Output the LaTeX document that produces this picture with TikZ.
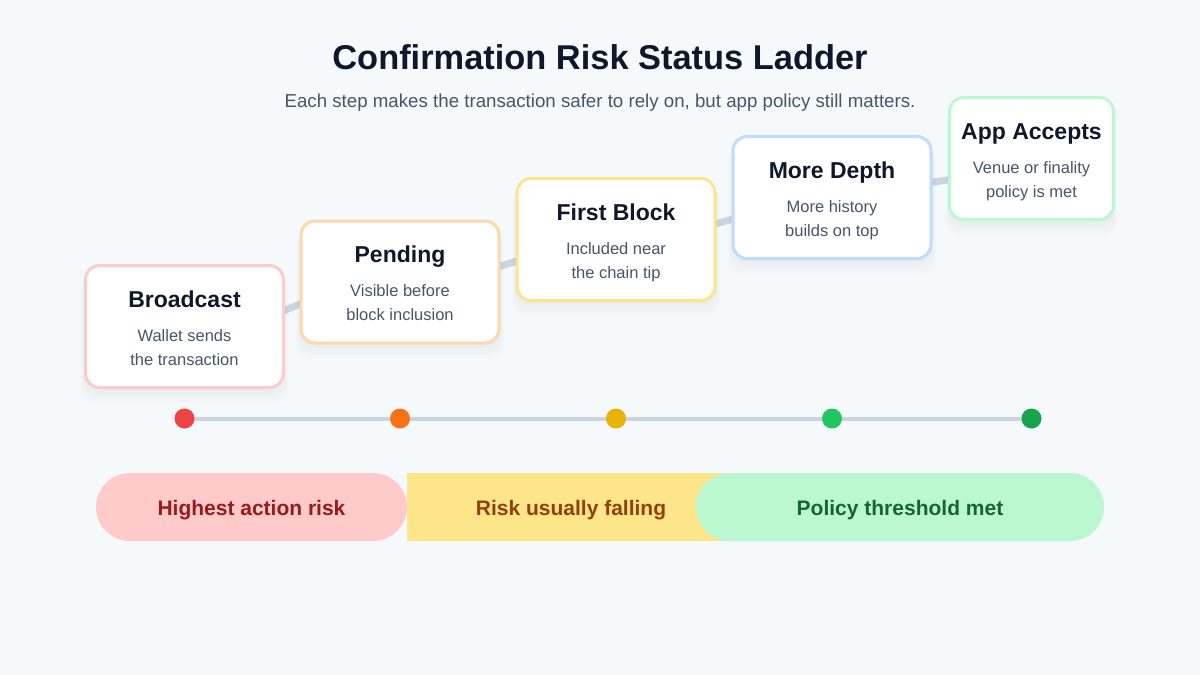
\documentclass[tikz,border=0pt]{standalone}
\usepackage{fontspec}
\setmainfont{Liberation Sans}
\usetikzlibrary{shadows}

\definecolor{pagebg}{HTML}{F6F9FC}
\definecolor{ink}{HTML}{0F172A}
\definecolor{muted}{HTML}{475569}
\definecolor{railgray}{HTML}{CBD5E1}
% box borders
\definecolor{edgeA}{HTML}{FECACA}
\definecolor{edgeB}{HTML}{FED7AA}
\definecolor{edgeC}{HTML}{FDE68A}
\definecolor{edgeD}{HTML}{BFDBFE}
\definecolor{edgeE}{HTML}{BBF7D0}
% timeline dots
\definecolor{dotA}{HTML}{EF4444}
\definecolor{dotB}{HTML}{F97316}
\definecolor{dotC}{HTML}{EAB308}
\definecolor{dotD}{HTML}{22C55E}
\definecolor{dotE}{HTML}{16A34A}
% risk bands
\definecolor{bandhigh}{HTML}{FECACA}
\definecolor{bandmid}{HTML}{FDE68A}
\definecolor{bandlow}{HTML}{BBF7D0}
\definecolor{texthigh}{HTML}{991B1B}
\definecolor{textmid}{HTML}{92400E}
\definecolor{textlow}{HTML}{166534}

\pgfdeclarelayer{page}
\pgfdeclarelayer{rungs}
\pgfsetlayers{page,rungs,main}

\tikzset{
  softshadow/.style={general shadow={opacity=0.012, shadow yshift=-#1pt, fill=black,
    shadow scale=1.0+0.004*#1}},
  stepbox/.style={draw=#1, line width=3pt, fill=white, rounded corners=14pt,
    minimum height=122pt, inner sep=0pt,
    softshadow=3, softshadow=6, softshadow=9, softshadow=12},
  steptitle/.style={font=\fontsize{23}{27}\selectfont\bfseries, text=ink, anchor=base, inner sep=0pt},
  stepnote/.style={font=\fontsize{16.5}{24}\selectfont, text=muted, anchor=base, inner sep=0pt},
  ladder/.style={draw=railgray, line width=7pt},
  dotmark/.style={circle, fill=#1, minimum size=20pt, inner sep=0pt},
  band/.style={fill=#1, minimum height=68pt, inner sep=0pt},
  bandtext/.style={font=\fontsize{21}{25}\selectfont\bfseries, text=#1},
}

\begin{document}
\begin{tikzpicture}[x=1pt,y=-1pt]
    \begin{pgfonlayer}{page}
        \fill[pagebg] (0,0) rectangle (1200,675);
    \end{pgfonlayer}
    \useasboundingbox (0,0) rectangle (1200,675);

    \node[font=\fontsize{34.4}{40}\selectfont\bfseries, text=ink] (title) at (600,57) {Confirmation Risk Status Ladder};
    \node[font=\fontsize{18.7}{22}\selectfont, text=muted] (subtitle) at (600,103)
        {Each step makes the transaction safer to rely on, but app policy still matters.};

    \foreach \i/\x/\y/\col/\boxw/\head/\lineA/\lineB in {
        1/184.5/326.5/edgeA/198/Broadcast/Wallet sends/the transaction,
        2/400/282/edgeB/198/Pending/Visible before/block inclusion,
        3/616/239.5/edgeC/198/First Block/Included near/the chain tip,
        4/832/197.5/edgeD/198/More Depth/More history/builds on top,
        5/1031.5/158.5/edgeE/164/App Accepts/Venue or finality/policy is met} {
        \node[stepbox=\col, minimum width=\boxw pt] (step\i) at (\x,\y) {};
        \node[steptitle] (head\i) at ([yshift=19.5pt]step\i.center) {\head};
        \node[stepnote] (notea\i) at ([yshift=-14.5pt]step\i.center) {\lineA};
        \node[stepnote] (noteb\i) at ([yshift=-38.5pt]step\i.center) {\lineB};
    }

    % rungs between the boxes
    \begin{pgfonlayer}{rungs}
    \foreach \i [evaluate=\i as \j using int(\i+1)] in {1,...,4} {
        \draw[ladder] ([xshift=-3pt,yshift=15pt]step\i.east) -- ([xshift=3pt,yshift=-21pt]step\j.west);
    }
    \end{pgfonlayer}

    % timeline
    \foreach \i/\x in {1/184.5,2/400,3/616,4/832,5/1031.5} {
        \coordinate (t\i) at (\x,418.5);
    }
    \draw[railgray, line width=4pt] (t1) -- (t5);
    \foreach \i/\col in {1/dotA,2/dotB,3/dotC,4/dotD,5/dotE} {
        \node[dotmark=\col] (dot\i) at (t\i) {};
    }

    % risk bands
    \node[band=bandmid, minimum width=328pt] (midband) at (571,507) {};
    \node[band=bandhigh, minimum width=311pt, rounded corners=34pt] (highband) at (251.5,507) {};
    \node[band=bandlow, minimum width=408pt, rounded corners=34pt] (lowband) at (900,507) {};
    \node[bandtext=texthigh] (highlabel) at (highband.center) [yshift=-3pt] {Highest action risk};
    \node[bandtext=textmid] (midlabel) at (571,507) [yshift=-3pt] {Risk usually falling};
    \node[bandtext=textlow] (lowlabel) at (lowband.center) [yshift=-3pt] {Policy threshold met};

\end{tikzpicture}
\end{document}
